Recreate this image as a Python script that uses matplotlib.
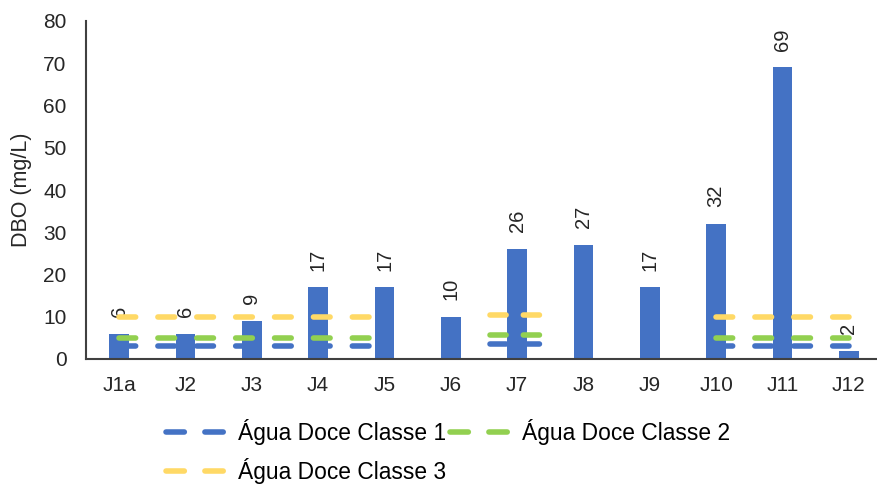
import numpy as np
import matplotlib
matplotlib.use("Agg")
import matplotlib.pyplot as plt
from matplotlib.lines import Line2D

plt.rcParams['font.family'] = ['Liberation Sans', 'DejaVu Sans']

categories = ["J1a", "J2", "J3", "J4", "J5", "J6", "J7", "J8", "J9", "J10", "J11", "J12"]
dbo = [6, 6, 9, 17, 17, 10, 26, 27, 17, 32, 69, 2]
nan = np.nan
classe1 = [3, 3, 3, 3, 3, nan, 3.6, nan, nan, 3, 3, 3]
classe2 = [5, 5, 5, 5, 5, nan, 5.6, nan, nan, 5, 5, 5]
classe3 = [10, 10, 10, 10, 10, nan, 10.5, nan, nan, 10, 10, 10]
series_names = ["Água Doce Classe 1", "Água Doce Classe 2", "Água Doce Classe 3"]

bar_color = "#4472C4"
line_colors = ["#4472C4", "#92D050", "#FFD966"]
text_color = "#262626"

fig = plt.figure(figsize=(8.77, 4.84), dpi=100)
ax = fig.add_axes([86/877, 1-359/484, 796/877, (359-21)/484])

x = np.arange(len(categories))
ax.bar(x, dbo, width=0.3, color=bar_color, zorder=2)
for xi, v in zip(x, dbo):
    ax.annotate(str(v), (xi, v), xytext=(0, 12), textcoords='offset points',
                rotation=90, ha='center', va='bottom', fontsize=14.5, color=text_color)

LW = 4
handles = []
for vals, col, name in zip([classe1, classe2, classe3], line_colors, series_names):
    arr = np.array(vals, dtype=float)
    ax.plot(x, arr, color=col, lw=LW, linestyle=(0, (3.0, 4.0)), dash_capstyle='round', zorder=3)
    # isolated points drawn as short dashed segments
    for i in range(len(arr)):
        if np.isnan(arr[i]):
            continue
        left_nan = i == 0 or np.isnan(arr[i-1])
        right_nan = i == len(arr)-1 or np.isnan(arr[i+1])
        if left_nan and right_nan:
            ax.plot([x[i]-0.41, x[i]+0.34], [arr[i], arr[i]], color=col, lw=LW,
                    linestyle=(0, (2.9, 3.1)), dash_capstyle='round', zorder=3)
    handles.append(Line2D([0], [0], color=col, lw=LW, linestyle=(0, (3.3, 3.7)), dash_capstyle='round'))

ax.set_xlim(-0.5, 11.5)
ax.set_ylim(0, 80)
ax.set_yticks(range(0, 81, 10))
ax.set_xticks(x)
ax.set_xticklabels(categories)
ax.tick_params(axis='both', length=0, labelsize=15, colors=text_color)
ax.tick_params(axis='y', pad=14)
ax.tick_params(axis='x', pad=12)
for s in ['top', 'right']:
    ax.spines[s].set_visible(False)
ax.spines['left'].set_color('#404040')
ax.spines['left'].set_linewidth(1.5)
ax.spines['bottom'].set_color('#404040')
ax.spines['bottom'].set_linewidth(1.5)
ax.set_ylabel("DBO (mg/L)", fontsize=15.5, color=text_color, labelpad=8)

fig.legend([handles[0], handles[2], handles[1]],
           [series_names[0], series_names[2], series_names[1]],
           ncol=2, loc='upper left', bbox_to_anchor=(166/877, 1-419/484),
           frameon=False, fontsize=16.4, handlelength=2.75, handletextpad=0.42,
           columnspacing=0.15, labelspacing=0.55, borderaxespad=0, borderpad=0)

fig.savefig("out.png", dpi=100)
